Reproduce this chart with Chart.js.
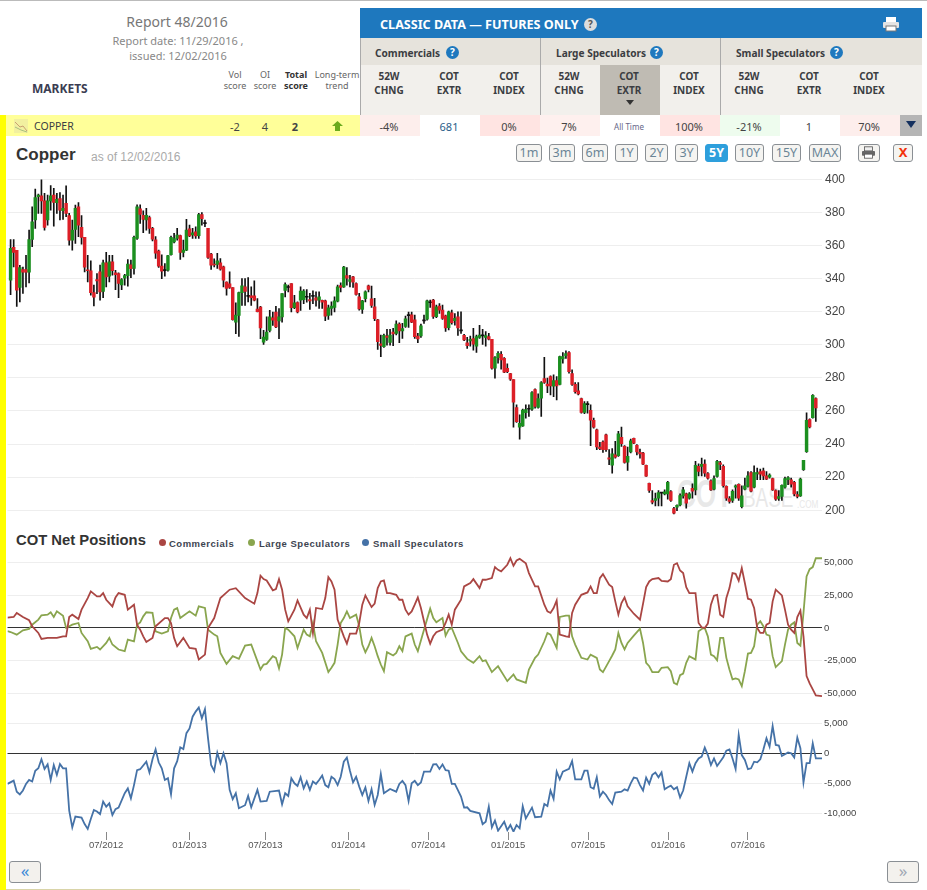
<!DOCTYPE html>
<html>
<head>
<meta charset="utf-8">
<title>Copper COT</title>
<script src="https://cdn.jsdelivr.net/npm/chart.js@4/dist/chart.umd.min.js"></script>
<style>
  html, body { margin: 0; padding: 0; background: #fff; }
  #page { position: relative; width: 927px; height: 890px; overflow: hidden; font-family: "Noto Sans", sans-serif; color: #444; }
  #page div, #page span.t, #page svg, canvas { position: absolute; }
  .t { white-space: nowrap; }
  .mid { transform: translate(-50%, -50%); text-align: center; }
  .left { transform: translateY(-50%); }
  .btn { top: 144px; height: 16px; line-height: 15px; border: 1px solid #8a8f94; border-radius: 3px; background: #f5f4f1; color: #6a8596; font-size: 12.5px; text-align: center; box-sizing: content-box; }
  .help { width: 13px; height: 13px; line-height: 13px; border-radius: 50%; background: #1e78be; color: #fff; font-size: 10px; font-weight: bold; text-align: center; }
  .leg { font: bold 9.5px "Liberation Sans", Arial, sans-serif; letter-spacing: 0.5px; color: #3d4450; }
  .dot { width: 7px; height: 7px; border-radius: 50%; top: 539px; }
  .grp { font-size: 10.1px; font-weight: bold; color: #3b3d42; top: 53px; }
  .mark { transform-origin: left top; font-family: "Liberation Sans", Arial, sans-serif; color: #e8e8e8; }
</style>
</head>
<body>
<div id="page">
  <div style="left:0;top:0;width:927px;height:1px;background:#bbb"></div>
  <div style="left:0;top:115px;width:6px;height:775px;background:#ff0"></div>

  <div class="t mid" style="left:177px;top:21px;font-size:14px;color:#777">Report 48/2016</div>
  <div class="t mid" style="left:178px;top:40px;font-size:11px;color:#888">Report date: 11/29/2016 ,</div>
  <div class="t mid" style="left:178px;top:55px;font-size:11px;color:#888">issued: 12/02/2016</div>
  <div class="t left" style="left:32px;top:88px;font-size:12px;font-weight:bold;color:#3b3d52">MARKETS</div>

  <div id="head"></div>

  <div style="left:360px;top:8px;width:562px;height:30px;background:#1e78be"></div>
  <div class="t left" style="left:380px;top:24px;font-size:12.6px;font-weight:bold;color:#fff">CLASSIC DATA — FUTURES ONLY</div>
  <div class="help" style="left:584px;top:18px;background:#ddd;color:#555">?</div>
  <svg style="left:882px;top:16px" width="18" height="16" viewBox="0 0 18 16"><rect x="4" y="1" width="10" height="5" fill="#fff"/><rect x="1" y="6" width="16" height="6" rx="1" fill="#e4e4e4"/><rect x="4" y="10" width="10" height="5" fill="#fff" stroke="#777"/></svg>

  <div style="left:360px;top:38px;width:562px;height:27px;background:#e6e3dc"></div>
  <div style="left:360px;top:65px;width:562px;height:50px;background:#f2f0ec"></div>
  <div style="left:600px;top:65px;width:60px;height:50px;background:#bfbbb3"></div>
  <div style="left:360px;top:38px;width:1px;height:77px;background:#aaa"></div>
  <div style="left:540px;top:38px;width:1px;height:77px;background:#aaa"></div>
  <div style="left:720px;top:38px;width:1px;height:77px;background:#aaa"></div>

  <div class="t left grp" style="left:375px">Commercials</div>
  <div class="help" style="left:446px;top:46px">?</div>
  <div class="t left grp" style="left:556px">Large Speculators</div>
  <div class="help" style="left:650px;top:46px">?</div>
  <div class="t left grp" style="left:736px">Small Speculators</div>
  <div class="help" style="left:830px;top:46px">?</div>
  <svg style="left:626px;top:100px" width="8" height="5"><path d="M0 0H8L4 5Z" fill="#333"/></svg>

  <div style="left:6px;top:115px;width:354px;height:21px;background:#ffff99"></div>
  <svg style="left:14px;top:119px" width="14" height="14"><rect width="14" height="14" fill="#f2f0a0"/><path d="M1 3L6 8L9 7L13 12" fill="none" stroke="#c9a070"/><path d="M1 8L7 11L13 13" fill="none" stroke="#a8c080"/></svg>
  <div class="t left" style="left:34px;top:126px;font-size:10.5px;color:#3b3d42">COPPER</div>
  <div class="t mid" style="left:235px;top:126px;font-size:11px">-2</div>
  <div class="t mid" style="left:265px;top:126px;font-size:11px">4</div>
  <div class="t mid" style="left:295px;top:126px;font-size:11px;font-weight:bold">2</div>
  <svg style="left:332px;top:121px" width="11" height="10"><path d="M5.5 0L11 5H8V10H3V5H0Z" fill="#6cab1e"/></svg>
  <div id="row"></div>
  <div style="left:900px;top:115px;width:22px;height:21px;background:#b5b5b5"></div>
  <svg style="left:906px;top:121px" width="10" height="7"><path d="M0 0H10L5 7Z" fill="#14305e"/></svg>

  <div class="t left" style="left:16px;top:155px;font:bold 17px 'Liberation Sans',Arial,sans-serif;color:#333">Copper</div>
  <div class="t left" style="left:91px;top:157px;font:12px 'Liberation Sans',Arial,sans-serif;color:#aaa">as of 12/02/2016</div>
  <div id="buttons"></div>
  <div class="btn" style="left:858px;width:20px"></div>
  <svg style="left:861px;top:146px" width="15" height="13" viewBox="0 0 18 16"><rect x="4" y="1" width="10" height="5" fill="#eee" stroke="#555"/><rect x="1" y="6" width="16" height="6" rx="1" fill="#666"/><rect x="4" y="10" width="10" height="5" fill="#fff" stroke="#555"/></svg>
  <div class="btn" style="left:893px;width:18px;color:#f2300a;font-weight:bold;font-size:13px">X</div>

  <!-- watermark sits under the price canvas -->
  <div class="t mark" style="left:677px;top:472px;font-size:39px;font-weight:bold;transform:scaleX(0.67)">COT</div>
  <div class="t mark" style="left:743px;top:483px;font-size:27px;transform:scaleX(0.7)">BASE</div>
  <div class="t mark" style="left:797px;top:499px;font-size:10px;transform:scaleX(0.82)">.COM</div>

  <canvas id="priceChart" width="927" height="350" style="left:0;top:170px"></canvas>

  <div class="t left" style="left:16px;top:540px;font:bold 14.8px 'Liberation Sans',Arial,sans-serif;color:#333">COT Net Positions</div>
  <div class="dot" style="left:159px;background:#aa4643"></div>
  <div class="t left leg" style="left:169px;top:543px">Commercials</div>
  <div class="dot" style="left:248px;background:#89a54e"></div>
  <div class="t left leg" style="left:259px;top:543px">Large Speculators</div>
  <div class="dot" style="left:362px;background:#4572a7"></div>
  <div class="t left leg" style="left:373px;top:543px">Small Speculators</div>

  <canvas id="netChart" width="927" height="155" style="left:0;top:550px"></canvas>
  <canvas id="smallChart" width="927" height="155" style="left:0;top:700px"></canvas>

  <div class="btn" style="left:9px;top:861px;width:30px;height:20px;color:#3a8ad8;font-size:17px;line-height:17px;background:#f3f1ed">«</div>
  <div class="btn" style="left:887px;top:861px;width:30px;height:20px;color:#a0a8b4;font-size:17px;line-height:17px;background:#f3f1ed">»</div>
  <div style="left:6px;top:889px;width:354px;height:1px;background:#d9d4a8"></div>
  <div style="left:360px;top:889px;width:50px;height:1px;background:#fbeeee"></div>
</div>

<script>
// candles are weekly, index = week number from the start of the 5Y window
const opens = [
  339,358.8,357,334.6,345.5,345.5,343.8,363.6,375.4,389.5,
  390,386.9,375.4,386.9,390.5,385.9,388.3,381,385.5,378,
  363.2,369.7,383.4,370.9,364.9,345.3,344.7,331.5,339.4,344,
  332.3,349.5,341.4,350.1,343.4,343,336.2,340.2,341.8,348.3,
  346.1,364.2,382.2,378.2,375.4,376.8,370.3,363.4,356.6,347.5,
  345.2,345,354.5,362.2,364.2,365.9,355.8,357.2,370.1,366.3,
  368.3,365.9,378.6,373.5,370.3,354.8,348.7,348.5,349.5,347.1,
  337.8,336.8,334.6,313.7,317.8,331.5,335,329.4,329.5,329.5,
  321.6,322.8,301.6,303.2,308.7,316.2,319.8,314.4,316.8,332.9,
  335,337,322.4,325.5,326.9,327.3,328.9,
  327.3,329.4,328.4,327,326.8,326.5,317.7,321.9,322.5,326.3,
  335.8,335,341.8,338.2,341,337,329,321.3,327.8,335.6,
  327.8,322.9,315.1,300.6,298.8,305.3,301.4,307.7,306.9,312.5,
  308.3,311.1,317.8,318.1,315.1,305.3,305.3,314.6,315.5,325.6,
  327,316.9,323.3,320.9,317.5,310.3,319.3,314.5,316.9,308.6,
  305.7,301.2,302.3,303.7,299.2,304.5,305.6,304.5,304.9,303.3,
  285.8,292.2,294.2,291.8,285.8,282.6,279,262.1,250.2,251,
  258.9,261.2,261.1,272.9,262.1,267.7,279.6,276.3,280.8,274.9,
  278.4,276.1,291.4,293.4,295.2,282.6,276.1,272.1,267.5,259.1,
  264,260.3,254.3,248.6,238.2,241.2,245.6,
  231.7,227.3,233.5,232.9,244,238.6,229.1,235.2,243.4,239.2,
  235,234.6,227.1,216.2,205.9,205.9,207.3,210.5,209.9,209.9,
  211.3,201,201.8,203.2,208.7,209.9,207.3,213.3,212.3,226.5,
  226.5,227.9,222.2,217.8,212.7,220.4,228.7,226.5,214.4,207.1,
  205.9,213.9,215.6,202.2,212.7,214.4,222.8,213.9,222,223.4,
  223.8,220.8,220,219.2,211.9,207.1,208.3,213.9,218.4,218.4,
  216.8,209.5,208.7,224.5,235.4,254.8,256,267.5
];
const closes = [
  358.2,355.8,333,346.7,343.8,343.8,363.6,374.3,389,390.5,
  386.9,370.9,386.9,390,386,387.9,381.4,382.4,379.4,363.2,
  369.3,382.4,372.3,364.9,346.9,344.7,331.5,328.7,338.6,331.9,
  349.5,341,350.1,344.7,342.4,337,339.4,341.8,348.7,345.9,
  364.9,383.4,378.8,375.8,378.2,370.3,363.8,355.4,347.5,344.5,
  344.8,353.9,364.9,364.2,366.3,355.8,357.2,369.3,365.7,367.7,
  365.7,378.6,376.2,373.2,352.7,348.1,348.2,350.7,345.7,339,
  334,334.6,315.2,318,331.5,335.6,332.3,329.2,328.5,326.9,
  320,310.1,304.7,307.7,316.8,314.8,310.7,316.8,330.9,336.4,
  334.6,322.4,325.3,319.8,332.5,332.5,328.7,
  326.5,329.2,327,329,325.7,317.3,322.3,323.3,326.5,335,
  334.6,347,340.2,339.4,337.8,330.4,321.7,326.5,332,333.4,
  323.7,315.7,301.8,299.6,305.7,304.5,305.9,306.5,312.5,308.3,
  309.7,315.7,317.6,313.7,304.9,303.5,311.5,314.4,326.5,325.4,
  317.1,322.9,320.9,315.9,310.1,319.9,313.3,315.9,310.1,308.4,
  302.9,299.4,303.3,300.4,304.9,305.9,305.4,305.5,303.3,285.8,
  292.2,294.8,290.8,283.4,283.8,279.2,265.3,253.5,252.5,260.5,
  260.9,261,271.1,262.7,267.5,277.1,277.3,275.1,275.1,278.4,
  275.1,292.8,292.8,294.6,283.8,276,271.7,270.3,259.1,264.5,
  263.8,254.5,250.2,238.2,237.2,236.6,236.6,
  230.9,234.1,232.1,246.1,240.2,228.9,232.5,242,240.6,235.2,
  234.1,227.9,220.6,211.9,204.9,207.1,210.7,210.3,211.1,216.8,
  205.9,198.2,203,208.9,212.3,204.3,209.9,211.5,227.1,223.4,
  227.7,222.4,219.4,212.3,219.2,229.5,227.7,214.8,207.3,205.3,
  211.5,214.8,207.3,208.7,214.8,220.8,211.5,222.8,222.8,221.8,
  220.8,218.8,221.2,212.3,206.7,208.3,215,219.2,219.8,215.8,
  209.9,208.3,218.8,230.1,254.3,250.3,269.5,261.8
];
const highs = [
  363.6,363.6,357,348,347,354,369.3,383.4,394,391.1,
  399.6,391.5,390.5,396.2,394.5,391.5,391.9,390.5,396,379.4,
  375.4,384.4,385.9,378,364.9,354.1,350.7,336,343,348.1,
  351.1,355.8,354.1,354.1,345,343.4,340,342.6,351.5,351.1,
  365.7,384.6,384.6,381,382.4,377.8,370.9,365.3,357.2,354.3,
  349.1,354.1,365.7,367.3,370.3,366.3,363.2,375.8,372.3,370.3,
  371.3,379.4,379.8,375.4,370.3,355.2,351.9,355.2,352.1,347.5,
  338,344,334.6,325.3,331.9,340,340,340.6,335,338.6,
  327.9,323.2,308.7,316.8,320.8,319.8,323.2,321.8,330.9,337.4,
  336,337,329.9,325.9,335,333.3,333.3,
  331,332.6,332,332,327,327,323.9,325.9,329,336,
  337.4,347.4,346.6,342,341.4,337.4,331,326.9,332.6,336,
  335.4,328,315.3,305.9,306.5,309.3,309.3,309.9,314.5,313.3,
  312.9,317.3,319.7,319.7,317.9,306.9,312.5,317.9,327,327,
  327.4,323.9,324.9,323.9,317.9,320.3,320.9,318.9,319.9,319.9,
  306.3,304.5,305.3,309.9,305.9,311.7,309.3,307.9,306.9,303.3,
  292.8,295.8,295.8,292.2,288.4,282.8,279,263.7,257.7,261.1,
  263.7,263.7,271.7,273.3,270.3,277.8,292.4,279.8,281.2,281.8,
  280.8,293.2,295.2,296.4,295.8,284.8,277.1,277.1,267.7,265.7,
  265.7,263.7,255.7,249,241,242,246,
  236.6,237.2,241.6,247.7,250.3,239,238.2,243,243.6,239.6,
  237,235,227.3,216.4,211.9,210.3,211.9,210.5,212.3,217.4,
  211.9,201.8,203.2,209.9,213.9,210.3,210.7,216,229.5,228.1,
  231.5,230.5,222.8,218.4,220.8,230.1,229.5,227.5,214.8,208.3,
  212.3,215.4,216,214.8,219.4,223.4,223.4,226.9,225.5,224.9,
  225.5,223.4,222,219.4,212.3,211.9,215.4,220,220.4,219.4,
  217.4,211.3,219.4,230.1,258.8,255.2,269.9,267.9
];
const lows = [
  330.3,347.1,323.2,325.9,331,335,337.4,359.2,370.3,379.4,
  379.4,369.3,372.3,381.4,371.7,379.4,375.4,375.8,377.4,360.2,
  357.2,361.2,365.3,360.8,344,338,329.9,323.4,330.9,326.9,
  328.5,335,338,342,333.3,328.5,333.3,336,335.4,340.6,
  342.6,363.6,373.3,367.7,369.3,367.3,362.8,352.1,346.7,340,
  341.4,344.5,354.1,361.6,363.2,351.5,353.1,356.8,365.3,364.2,
  364.2,364.2,372.3,371.3,352.1,345.5,347,346.1,345.1,335,
  329.9,334,314.8,306.7,305.1,323.8,323.8,325.9,323.8,326.5,
  319.8,303.6,300.2,302.6,307.7,311.7,310.3,303.6,313.7,328.9,
  332,319.8,321.8,319.2,320.8,324.9,325.7,
  321.3,324.9,323.3,321.9,321.9,314.5,315.3,317.9,319.9,325.9,
  332,334.6,336,335,334.6,330,320.9,318.9,325.9,332,
  322.5,314.5,297.2,292.8,298.4,299.8,299.8,299.4,305.9,301.2,
  303.9,310.5,310.5,313.3,303.9,301.2,304.5,312.9,314.9,322.5,
  315.9,316.3,318.9,315.3,308.1,308.9,312.5,311.9,305.7,306.9,
  302.5,297.8,299.2,296.8,295.4,303.9,300.2,299.2,302.9,285.2,
  279.8,288.8,285.2,283.2,283.2,278.4,250.2,253.1,243,250.6,
  255.7,256.7,260.3,261.7,261.7,256.7,276.7,271.1,269.7,268.7,
  266.7,275.7,288.8,291.8,282.8,275.5,270.7,269.7,258.7,258.3,
  258.7,239,249.6,236.6,236.6,235,235.5,
  227.5,222.4,231.5,232.5,238.6,228.5,224,234.6,240.2,233.5,
  231.5,227.5,220.4,210.7,203.8,202.6,202.6,202.6,209.3,206.7,
  205.3,197.8,199.8,202.6,207.3,201.2,206.7,207.3,209.3,220.8,
  220.8,220.4,218.8,211.9,212.3,220,224.5,213.9,205.9,204.3,
  204.7,207.3,205.9,201.4,212.3,213.9,211.1,213.5,218.4,218.4,
  218.4,218.4,219.4,211.9,205.9,205.9,205.9,213.3,215.4,213.9,
  208.7,207.5,208.3,224,235,249.7,255.6,253.7
];

// net positions, week number and contracts for each turning point of the line
const commWeeks = [-1,1,2,4,6,7,9,10,12,15,17,18,19,20,22,23,25,26,28,29,30,31,33,34,35,37,38,40,41,42,43,44,46,47,50,51,52,53,54,56,58,60,61,63,64,66,67,68,71,73,76,79,80,81,82,83,85,86,87,88,89,90,92,93,95,96,97,98,99,
  101,102,103,104,105,106,107,108,109,110,112,113,114,115,116,117,118,119,120,121,122,123,125,126,127,128,129,130,131,132,133,134,135,136,137,138,140,141,142,143,144,146,147,149,150,152,153,154,156,157,158,159,161,162,163,164,165,167,168,170,171,173,174,175,176,177,178,180,181,182,183,185,187,188,189,190,191,192,
  194,195,196,197,198,199,200,202,204,205,206,207,208,210,211,213,214,215,216,217,218,219,220,222,223,224,225,226,227,228,229,230,231,232,233,234,235,236,237,238,239,240,241,242,243,244,245,246,247,248,250,251,252,253,254,255,256,257,258,259,260,261,263];
const commNet = [7900,8400,11500,8400,5900,1300,-3800,-8400,-7600,-7600,-6400,-6400,8400,10200,6900,14000,22900,28000,24200,24200,26700,21600,16500,23400,26700,25400,14000,17800,2500,-1300,-6400,-10700,-7600,1300,7600,7600,3800,-7600,-14000,-7600,-15300,-16000,-24200,-20400,0,7600,15300,22900,29300,30500,22900,18600,26700,40000,37400,36400,28800,29800,37400,29300,14000,5100,14000,21100,10200,7600,14000,-3800,15300,
  14500,22900,38900,35600,29300,6400,0,-6400,-12000,-4300,-4300,3800,17800,24900,20400,16000,18600,30500,35600,36400,26700,26700,25400,21600,21600,14000,10200,12700,17800,23400,15300,5100,-5100,-12000,-6400,-3300,-1300,3800,10200,2500,14000,21600,31800,34400,37400,30500,36900,36900,38200,46600,44500,43300,48400,53400,47600,51700,52900,49600,42000,31800,31800,17800,12700,11500,15300,21100,-5100,-6400,-6900,11500,17800,25400,27200,31800,26700,26700,38200,41200,
  33100,31300,20400,10200,19100,23400,16500,10900,6400,18600,31300,35600,37400,38200,36100,35600,37400,48400,49600,44000,42000,31300,26700,26700,3800,500,0,3300,17800,24700,25400,10200,8400,22900,30500,42000,41500,36100,45800,34400,22400,21600,15300,0,-3800,-3800,2500,3800,20400,29300,24900,14000,2500,-1300,-3800,8400,13200,-6400,-36900,-42500,-47100,-51700,-52200];

const largeWeeks = [-1,0,2,4,6,7,9,10,12,13,14,15,17,18,20,22,23,25,26,28,29,31,32,33,35,37,38,40,41,42,43,44,46,47,49,51,52,53,54,55,58,60,61,63,64,66,67,68,70,72,74,76,78,80,81,82,83,85,86,87,88,89,90,92,93,95,96,97,98,99,
  101,103,104,105,106,107,108,109,110,112,113,114,115,116,117,118,119,120,121,122,124,125,126,127,128,130,131,132,134,136,137,138,140,141,142,143,145,146,148,150,152,153,154,156,158,161,163,164,167,168,170,171,173,174,175,177,178,180,181,182,183,185,187,188,190,191,192,
  194,195,196,197,198,199,200,202,204,205,206,207,208,210,211,213,214,215,216,217,218,219,220,222,223,224,225,226,227,228,229,230,231,232,233,234,235,236,237,238,239,240,241,242,243,244,245,246,247,248,250,251,252,253,254,255,256,257,258,259,260,261,263];
const largeNet = [-2500,-3100,-5100,-1800,-800,2500,6400,9700,10200,12000,8400,12700,9400,0,2500,3800,-3800,-10200,-16000,-14500,-16500,-11500,-7600,-12700,-16500,-17800,-8900,-10200,2500,4300,8900,12000,11500,-2500,-4300,-2500,7600,14000,15300,7600,12700,9400,16500,15300,-1300,-5100,-6400,-19100,-27500,-21600,-23700,-13500,-12700,-25400,-31800,-28000,-27500,-21600,-22900,-31000,-20400,0,-1300,-6400,-15300,-1300,-5100,-6400,3800,-10200,
  -19100,-33800,-30500,-26700,-12700,3800,7600,12700,7600,10200,1300,-12700,-18600,-14000,-7600,-14000,-21600,-28000,-33100,-18600,-21100,-19100,-14000,-17800,-6400,-4300,-12700,-17800,-1300,14800,7600,4300,7600,-5900,-1300,0,-11500,-17800,-23700,-26700,-21600,-25400,-24700,-33800,-29300,-40700,-35600,-39400,-42000,-31800,-22900,-20400,-10200,-3800,-5100,-15300,8400,9400,9400,-6400,-12700,-22900,-24200,-20400,-22900,-31800,-33800,
  -25400,-21100,-16500,-3800,-11500,-16500,-11500,-5900,-500,-11500,-26700,-29300,-33800,-33800,-30500,-30000,-33100,-42000,-43300,-36100,-34900,-26700,-21600,-24200,-2500,-800,0,-6400,-20400,-21600,-24700,-7600,-7600,-22900,-31800,-39400,-38700,-39400,-44500,-33100,-19600,-19100,-14000,2500,5100,1300,-5100,-5900,-21600,-30000,-25400,-12700,-1300,2500,4300,-11500,-13500,11500,39400,45000,46600,53400,53400];

const smallWeeks = [-1,1,2,3,4,5,6,7,8,9,10,11,12,13,14,15,16,17,18,19,20,21,23,24,25,26,27,28,29,30,31,32,33,34,35,37,38,39,40,41,42,44,45,46,47,48,49,50,51,52,53,54,55,56,57,58,59,60,61,62,63,64,65,66,67,68,69,70,71,72,73,74,76,77,78,80,81,83,84,87,88,89,90,91,92,93,94,95,96,97,98,99,
  100,101,102,103,104,105,106,107,108,109,110,111,112,113,114,115,116,117,118,119,120,121,123,125,126,127,128,129,130,131,132,133,134,136,137,138,139,140,141,142,143,144,146,147,148,149,152,153,154,155,156,157,158,160,161,162,163,164,165,166,167,169,170,172,173,174,175,176,177,178,179,181,182,183,185,186,187,188,189,190,191,192,193,
  194,195,196,198,199,200,201,202,203,204,205,206,207,208,209,210,211,212,213,214,215,216,217,218,219,220,221,222,223,224,225,226,227,228,229,231,232,233,234,235,236,237,238,239,240,241,242,243,244,245,246,247,248,249,250,252,253,254,255,256,257,258,259,260,261,263];
const smallNet = [-5100,-4550,-6400,-6850,-6200,-5100,-4450,-4700,-2900,-2500,-1000,-2600,-1850,-4450,-1950,-3600,-1800,-2500,-2500,-9550,-12350,-10550,-10700,-11800,-12600,-10950,-9450,-9700,-10150,-8050,-8900,-8350,-10300,-9300,-9050,-6650,-5850,-7500,-5300,-2800,-2650,-1400,-3200,-1000,650,-1500,-2500,-4450,-4150,-6850,-2500,-1300,1000,700,3350,4150,6100,6950,7650,5850,7350,2500,-1950,-2950,100,-1650,0,-1650,-6100,-7650,-6650,-9150,-8650,-7100,-9000,-6100,-8050,-7950,-6400,-6200,-8500,-6650,-7100,-4150,-5000,-5450,-4000,-5850,-4700,-6100,-4700,-5100,
  -4450,-3700,-5300,-5650,-3900,-4300,-5300,-3900,-1400,-700,-2900,-4850,-3900,-5550,-6950,-5700,-7950,-6000,-8600,-6950,-3450,-6650,-5950,-6400,-5100,-4600,-5300,-7950,-5000,-4600,-5300,-4850,-3050,-3050,-1850,-1800,-2600,-1850,-2800,-2900,-5100,-5100,-7200,-9050,-9000,-9600,-10000,-11800,-11400,-8900,-12350,-11200,-12900,-11400,-12800,-11950,-13050,-11950,-12500,-8800,-10850,-9050,-10650,-10550,-8450,-8800,-6200,-7600,-3050,-4350,-3050,-2600,-1300,-4350,-4350,-2900,-2900,-5650,-5900,-4000,-7200,-6400,-6950,
  -7800,-8450,-6550,-6400,-6000,-6200,-5000,-4050,-4150,-5300,-6200,-4050,-5100,-3600,-3200,-4000,-3200,-6000,-5650,-5400,-6000,-5650,-7350,-6200,-3900,-1650,-3050,-1650,-850,-550,950,-300,-1950,-850,-2100,-650,450,650,-850,-2600,3050,-300,-1100,-2650,-2500,-1400,-1500,-1000,650,2500,1100,4550,1400,1300,-450,150,0,-700,2600,850,-4850,-1650,-1650,1650,-850,-850];

const priceTicks = [200, 220, 240, 260, 280, 300, 320, 340, 360, 380, 400];
const netTicks = [-50000, -25000, 0, 25000, 50000];
const smallTicks = [-10000, -5000, 0, 5000];
const dateTicks = [31, 58, 82.6, 109.5, 135.4, 161.3, 187.2, 213.1, 239];
const dateLabels = ["07/2012", "01/2013", "07/2013", "01/2014", "07/2014", "01/2015", "07/2015", "01/2016", "07/2016"];

// header cells
const columnHeads = [["52W","CHNG"],["COT","EXTR"],["COT","INDEX"],["52W","CHNG"],["COT","EXTR"],["COT","INDEX"],["52W","CHNG"],["COT","EXTR"],["COT","INDEX"]];
const cellValues = ["-4%","681","0%","7%","All Time","100%","-21%","1","70%"];
const cellColors = ["#fdeeec","#fff","#ffe4e2","#fef0ee","#fff","#ffe4e2","#eefcee","#fff","#fdeeec"];
const scoreHeads = [["Vol","score",235],["OI","score",265],["Total","score",296],["Long-term","trend",337]];
const rangeButtons = [["1m",516,24],["3m",549,24],["6m",582,24],["1Y",615,21],["2Y",645,21],["3Y",675,21],["5Y",705,21],["10Y",735,27],["15Y",772,27],["MAX",809,30]];

function fillHeader() {
  const head = document.getElementById("head");
  let html = "";
  scoreHeads.forEach((s, i) => {
    const weight = i === 2 ? "font-weight:bold;color:#333;" : "";
    html += `<div class="t mid" style="left:${s[2]}px;top:80px;font-size:9px;line-height:10.5px;color:#666;${weight}">${s[0]}<br>${s[1]}</div>`;
  });
  head.innerHTML = html;

  const row = document.getElementById("row");
  let cells = "";
  cellValues.forEach((v, i) => {
    const x = 360 + i * 60;
    cells += `<div style="left:${x}px;top:115px;width:60px;height:21px;background:${cellColors[i]}"></div>`;
    let extra = "font-size:11px;";
    if (v === "All Time") extra = "font-size:8px;color:#668;";
    if (v === "681") extra = "font-size:11px;color:#2a5d8a;";
    cells += `<div class="t mid" style="left:${x + 29}px;top:126px;${extra}">${v}</div>`;
    cells += `<div class="t mid" style="left:${x + 29}px;top:83px;font-size:10px;line-height:14px;font-weight:bold;color:#3b3d42">${columnHeads[i][0]}<br>${columnHeads[i][1]}</div>`;
  });
  row.innerHTML = cells;

  const buttons = document.getElementById("buttons");
  let btns = "";
  rangeButtons.forEach((b) => {
    const on = b[0] === "5Y" ? "background:#2e9fdc;color:#fff;font-weight:bold;border-color:#2e9fdc;" : "";
    btns += `<div class="btn" style="left:${b[1]}px;width:${b[2]}px;${on}">${b[0]}</div>`;
  });
  buttons.innerHTML = btns;
}
fillHeader();

function bodyColor(o, c) {
  if (Math.abs(o - c) < 0.5) return "#111";
  return c > o ? "#1b8f1f" : "#dc1f27";
}

// x axis is the same on the three panes
function weekAxis(showLabels) {
  return {
    type: "linear",
    min: -1,
    max: 263,
    offset: false,
    display: showLabels,
    afterBuildTicks(scale) {
      scale.ticks = dateTicks.map((v) => ({ value: v }));
    },
    afterFit(scale) {
      scale.paddingLeft = 0;
      scale.paddingRight = 0;
      scale.height = showLabels ? 23 : 0;
    },
    border: { display: false },
    grid: { offset: false, drawOnChartArea: false, drawTicks: true, tickLength: 8, tickColor: "#888", tickWidth: 1 },
    ticks: {
      autoSkip: false,
      maxRotation: 0,
      padding: 0,
      color: "#555",
      font: { family: "'Liberation Sans', Arial, sans-serif", size: 9.5 },
      callback(value) {
        return dateLabels[dateTicks.indexOf(value)];
      },
    },
  };
}

function valueAxis(tickList, min, max, fontSize, gap) {
  return {
    position: "right",
    min: min,
    max: max,
    afterBuildTicks(scale) {
      scale.ticks = tickList.map((v) => ({ value: v }));
    },
    afterFit(scale) {
      scale.width = 105;
      scale.paddingTop = 0;
      scale.paddingBottom = 0;
    },
    border: { display: false },
    grid: {
      drawTicks: false,
      color(ctx) {
        return ctx.tick && ctx.tick.value === 0 ? "#333" : "#eeeeee";
      },
    },
    ticks: {
      autoSkip: false,
      crossAlign: "near",
      padding: gap,
      color: "#444",
      font: { family: "'Liberation Sans', Arial, sans-serif", size: fontSize },
      callback(value) {
        return value.toLocaleString("en-US");
      },
    },
  };
}

function baseOptions(xAxis, yAxis) {
  return {
    responsive: false,
    animation: false,
    events: [],
    layout: { padding: { left: 7.5, right: 0, top: 0, bottom: 0 } },
    plugins: { legend: { display: false }, tooltip: { enabled: false } },
    scales: { x: xAxis, y: yAxis },
  };
}

function lineSet(name, weeks, values, color) {
  return {
    label: name,
    data: weeks.map((w, i) => ({ x: w, y: values[i] })),
    borderColor: color,
    borderWidth: 1.8,
    pointRadius: 0,
    tension: 0,
    fill: false,
  };
}

new Chart(document.getElementById("priceChart"), {
  type: "bar",
  data: {
    datasets: [
      {
        label: "Body",
        data: opens.map((o, i) => ({ x: i, y: [o, closes[i]] })),
        backgroundColor: opens.map((o, i) => bodyColor(o, closes[i])),
        barThickness: 2.8,
        minBarLength: 1,
        grouped: false,
      },
      {
        label: "Range",
        data: highs.map((h, i) => ({ x: i, y: [lows[i], h] })),
        backgroundColor: "#111",
        barThickness: 1,
        grouped: false,
      },
    ],
  },
  options: baseOptions(weekAxis(false), valueAxis(priceTicks, 194.1, 405.6, 12, 3)),
});

new Chart(document.getElementById("netChart"), {
  type: "line",
  data: {
    datasets: [
      lineSet("Commercials", commWeeks, commNet, "#aa4643"),
      lineSet("Large Speculators", largeWeeks, largeNet, "#89a54e"),
    ],
  },
  options: baseOptions(weekAxis(false), valueAxis(netTicks, -59000, 59700, 9.5, 2)),
});

new Chart(document.getElementById("smallChart"), {
  type: "line",
  data: { datasets: [lineSet("Small Speculators", smallWeeks, smallNet, "#4572a7")] },
  options: baseOptions(weekAxis(true), valueAxis(smallTicks, -13117, 8883, 9.5, 2)),
});
</script>
</body>
</html>
